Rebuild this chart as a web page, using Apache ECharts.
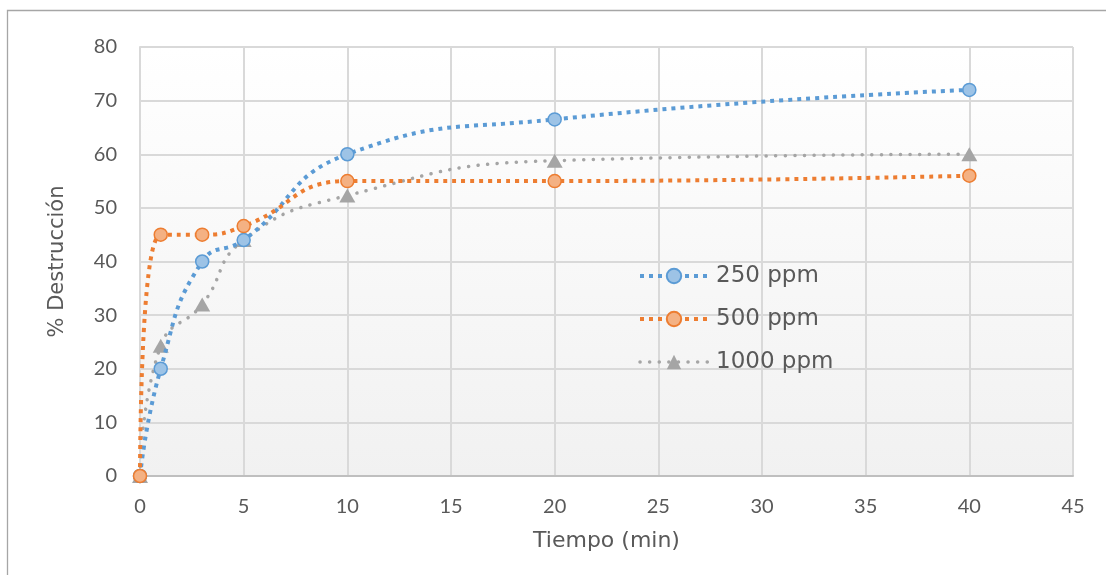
<!DOCTYPE html>
<html>
<head>
<meta charset="utf-8">
<script src="https://cdn.jsdelivr.net/npm/echarts@6/dist/echarts.min.js"></script>
<style>
  html, body { margin: 0; padding: 0; background: #ffffff; }
  #chart { width: 1106px; height: 575px; }
</style>
</head>
<body>
<div id="chart"></div>
<script>
const times = [0, 1, 3, 5, 10, 20, 40];
const ppm250 = [0, 20, 40, 44, 60, 66.5, 72];
const ppm500 = [0, 45, 45, 46.6, 55, 55, 56];
const ppm1000 = [0, 24.3, 32, 44, 52.3, 58.8, 60];
const seriesNames = ['250 ppm', '500 ppm', '1000 ppm'];
const xTitle = 'Tiempo (min)';
const yTitle = '% Destrucción';

function pairs(vals) { return times.map((t, i) => [t, vals[i]]); }

const chart = echarts.init(document.getElementById('chart'), null, { renderer: 'canvas' });

const tickFont = { color: '#595959', fontFamily: 'Lato', fontSize: 20 };

chart.setOption({
  animation: false,
  graphic: [{
    type: 'rect',
    shape: { x: 7.5, y: 10.5, width: 1120, height: 600 },
    style: { fill: 'none', stroke: '#a6a6a6', lineWidth: 1.3 },
    z: 100
  }],
  grid: {
    left: 140, right: 33, top: 47, bottom: 99,
    show: true,
    borderWidth: 0,
    backgroundColor: new echarts.graphic.LinearGradient(0, 0, 0, 1, [
      { offset: 0, color: '#ffffff' },
      { offset: 1, color: '#f1f1f1' }
    ])
  },
  legend: {
    orient: 'vertical',
    left: 638,
    top: 264,
    padding: 0,
    itemWidth: 68,
    itemHeight: 18,
    itemGap: 19,
    data: seriesNames,
    lineStyle: { width: 'inherit' },
    textStyle: { color: '#595959', fontFamily: 'DejaVu Sans', fontSize: 23, lineHeight: 24, padding: [0, 0, 0, 3] }
  },
  xAxis: {
    type: 'value',
    min: 0, max: 45, interval: 5,
    name: xTitle,
    nameLocation: 'middle',
    nameGap: 54,
    nameTextStyle: { color: '#595959', fontFamily: 'DejaVu Sans', fontSize: 22 },
    axisLine: { show: true, lineStyle: { color: '#bfbfbf', width: 2 } },
    axisTick: { show: false },
    axisLabel: Object.assign({ margin: 21 }, tickFont),
    splitLine: { show: true, lineStyle: { color: '#d9d9d9', width: 2 } }
  },
  yAxis: {
    type: 'value',
    min: 0, max: 80, interval: 10,
    name: yTitle,
    nameLocation: 'middle',
    nameGap: 72,
    nameTextStyle: { color: '#595959', fontFamily: 'DejaVu Sans', fontSize: 21 },
    axisLine: { show: true, lineStyle: { color: '#d9d9d9', width: 2 } },
    axisTick: { show: false },
    axisLabel: Object.assign({ margin: 23 }, tickFont),
    splitLine: { show: true, lineStyle: { color: '#d9d9d9', width: 2 } }
  },
  series: [
    {
      name: seriesNames[0],
      type: 'line',
      data: pairs(ppm250),
      smooth: 0.5,
      symbol: 'circle',
      symbolSize: 13,
      z: 3,
      lineStyle: { color: '#5b9bd5', width: 4, type: [4, 5], cap: 'butt' },
      itemStyle: { color: '#9dc3e6', borderColor: '#5b9bd5', borderWidth: 1.5 }
    },
    {
      name: seriesNames[1],
      type: 'line',
      data: pairs(ppm500),
      smooth: 0.5,
      symbol: 'circle',
      symbolSize: 13,
      z: 4,
      lineStyle: { color: '#ed7d31', width: 4, type: [4, 5], cap: 'butt' },
      itemStyle: { color: '#f4b183', borderColor: '#ed7d31', borderWidth: 1.5 }
    },
    {
      name: seriesNames[2],
      type: 'line',
      data: pairs(ppm1000),
      smooth: 0.5,
      symbol: 'triangle',
      symbolSize: [16, 14],
      z: 2,
      lineStyle: { color: '#a5a5a5', width: 3.5, type: [0.1, 9.5], cap: 'round' },
      itemStyle: { color: '#a5a5a5', borderColor: '#a5a5a5', borderWidth: 0 }
    }
  ]
});
</script>
</body>
</html>
